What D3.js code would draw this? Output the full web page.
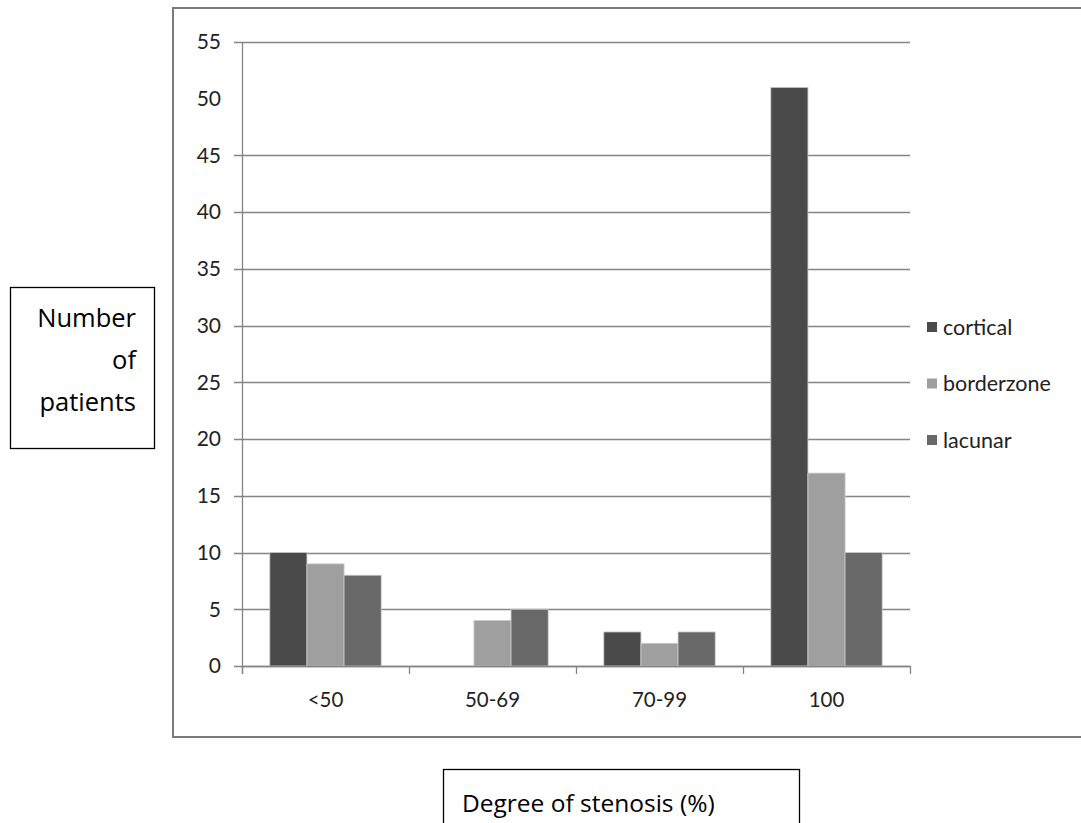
<!DOCTYPE html>
<html><head><meta charset="utf-8">
<script src="https://cdn.jsdelivr.net/npm/d3@7/dist/d3.min.js"></script>
<style>
html,body{margin:0;padding:0;background:#fff;}
svg{display:block;font-family:Lato, "Open Sans", sans-serif;}
</style></head>
<body>
<svg id="c" width="1081" height="823"></svg>
<script>
const categories = ["<50", "50-69", "70-99", "100"];
const seriesNames = ["cortical", "borderzone", "lacunar"];
const cortical = [10, 0, 3, 51];
const borderzone = [9, 4, 2, 17];
const lacunar = [8, 5, 3, 10];
const yTicks = [0, 5, 10, 15, 20, 25, 30, 35, 40, 45, 50, 55];
const gridTicks = [0, 5, 10, 15, 20, 25, 30, 35, 40, 45, 55];
const colors = ["#4a4a4a", "#9f9f9f", "#686868"];
const seriesValues = [cortical, borderzone, lacunar];

const svg = d3.select("#c");
const m = {left: 242, right: 910, top: 42, bottom: 666};

// chart frame
svg.append("rect").attr("x", 173).attr("y", 8).attr("width", 1000).attr("height", 729)
  .attr("fill", "none").attr("stroke", "#7a7a7a").attr("stroke-width", 2);

const y = d3.scaleLinear().domain([0, 55]).range([m.bottom, m.top]);
const x0 = d3.scaleBand().domain(categories).range([m.left, m.right]).padding(0);
const x1 = d3.scaleBand().domain(seriesNames).range([0, x0.bandwidth()]).paddingInner(0).paddingOuter(0.75);

// gridlines
svg.append("g").selectAll("line").data(gridTicks).join("line")
  .attr("x1", m.left - 8).attr("x2", m.right)
  .attr("y1", d => Math.round(y(d)) + 0.5).attr("y2", d => Math.round(y(d)) + 0.5)
  .attr("stroke", "#858585").attr("stroke-width", 1.3);

// y axis
const yAxis = svg.append("g").attr("transform", `translate(${m.left},0)`)
  .call(d3.axisLeft(y).tickValues(yTicks).tickSize(0).tickPadding(21));
yAxis.select(".domain").remove();
yAxis.selectAll("text").attr("font-size", 21).attr("fill", "#222").attr("font-family", "Lato");
svg.append("line").attr("x1", m.left + 0.5).attr("x2", m.left + 0.5)
  .attr("y1", m.top).attr("y2", m.bottom + 8).attr("stroke", "#858585").attr("stroke-width", 1.3);

// bars
const rows = categories.map((c, i) => ({c, vals: seriesNames.map((s, j) => ({s, v: seriesValues[j][i], j}))}));
svg.append("g").selectAll("g").data(rows).join("g")
  .attr("transform", d => `translate(${x0(d.c)},0)`)
  .selectAll("rect").data(d => d.vals.filter(e => e.v > 0)).join("rect")
  .attr("x", d => x1(d.s)).attr("width", x1.bandwidth())
  .attr("y", d => y(d.v)).attr("height", d => y(0) - y(d.v))
  .attr("fill", d => colors[d.j]).attr("stroke", "#c8c8c8").attr("stroke-width", 0.8);

// x axis
const xAxis = svg.append("g").attr("transform", `translate(0,${m.bottom})`)
  .call(d3.axisBottom(x0).tickSize(0).tickPadding(26));
xAxis.select(".domain").remove();
xAxis.selectAll("text").attr("font-size", 20.5).attr("fill", "#222").attr("font-family", "Lato");
svg.append("line").attr("x1", m.left).attr("x2", m.right)
  .attr("y1", m.bottom + 0.5).attr("y2", m.bottom + 0.5).attr("stroke", "#858585").attr("stroke-width", 1.3);
svg.append("g").selectAll("line").data(d3.range(categories.length + 1)).join("line")
  .attr("x1", i => Math.round(m.left + i * x0.step()) + 0.5).attr("x2", i => Math.round(m.left + i * x0.step()) + 0.5)
  .attr("y1", m.bottom).attr("y2", m.bottom + 8).attr("stroke", "#858585").attr("stroke-width", 1.3);

// legend
const lg = svg.append("g").selectAll("g").data(seriesNames).join("g")
  .attr("transform", (d, i) => `translate(927,${327 + i * 56.5})`);
lg.append("rect").attr("x", 0).attr("y", -5).attr("width", 10).attr("height", 10)
  .attr("fill", (d, i) => colors[i]);
lg.append("text").attr("x", 16).attr("dy", "0.35em").attr("font-size", 21.5)
  .attr("fill", "#222").text(d => d);

// y title box
svg.append("rect").attr("x", 10.5).attr("y", 287.5).attr("width", 144).attr("height", 161)
  .attr("fill", "none").attr("stroke", "#000").attr("stroke-width", 1.3);
const yTitle = ["Number", "of", "patients"];
svg.append("g").selectAll("text").data(yTitle).join("text")
  .attr("x", 136).attr("y", (d, i) => 318 + i * 42).attr("dy", "0.35em")
  .attr("text-anchor", "end").attr("font-size", 25.5).attr("font-family", "Open Sans").attr("fill", "#000").text(d => d);

// x title box
svg.append("rect").attr("x", 443.5).attr("y", 769.5).attr("width", 356).attr("height", 70)
  .attr("fill", "none").attr("stroke", "#000").attr("stroke-width", 1.3);
svg.append("text").attr("x", 462).attr("y", 803).attr("dy", "0.35em")
  .attr("font-size", 24.5).attr("font-family", "Open Sans").attr("fill", "#000").text("Degree of stenosis (%)");
</script>
</body></html>
